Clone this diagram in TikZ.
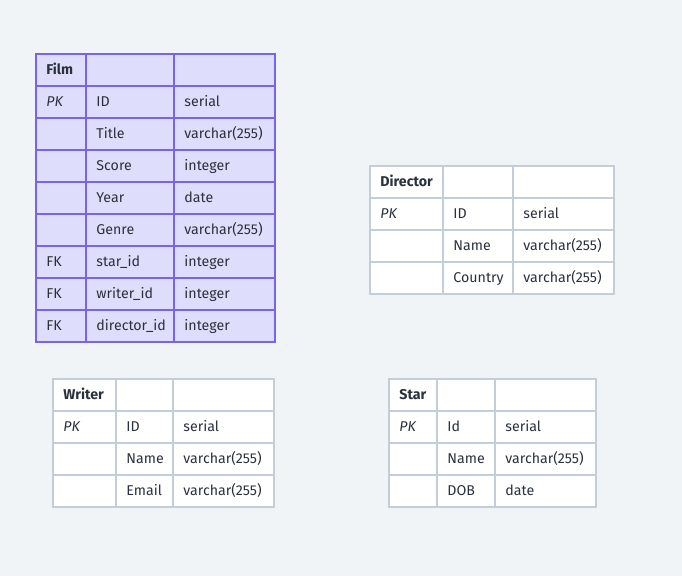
\documentclass[tikz,border=0pt]{standalone}
\usepackage{fontspec}
\setmainfont{Fira Sans}
\definecolor{bg}{HTML}{F1F4F7}
\definecolor{filmfill}{HTML}{DEDEFC}
\definecolor{filmline}{HTML}{7763EC}
\definecolor{plainline}{HTML}{C5CED8}
\definecolor{txt}{HTML}{2B313C}
\tikzset{
  cell/.style={draw, rectangle, anchor=north west, minimum height=32pt,
    inner xsep=10.5pt, inner ysep=0pt, align=left, text height=10pt, text depth=0pt,
    text=txt, font=\fontsize{14.2pt}{16pt}\selectfont, line width=1.9pt},
  filmcell/.style={cell, draw=filmline, fill=filmfill},
  plaincell/.style={cell, draw=plainline, fill=white},
}
\newcommand\mycell[6]{% style, name, xl, xr, ytop, text
  \pgfmathsetmacro\cw{#4-#3}%
  \pgfmathsetmacro\tw{#4-#3-21}%
  \node[#1, minimum width=\cw pt, text width=\tw pt] (#2) at (#3pt,-#5pt) {#6};%
}
\newcommand\tblrow[6]{% name, r, ytop, t1, t2, t3
  \mycell{\cst}{#1-#2-1}{\xa}{\xb}{#3}{#4}%
  \mycell{\cst}{#1-#2-2}{\xb}{\xc}{#3}{#5}%
  \mycell{\cst}{#1-#2-3}{\xc}{\xd}{#3}{#6}%
}
\begin{document}
\begin{tikzpicture}
\fill[bg] (0,0) rectangle (682pt,-576pt);
\useasboundingbox (0,0) rectangle (682pt,-576pt);
% Film
\def\cst{filmcell}\def\xa{35}\def\xb{85}\def\xc{173}\def\xd{274}
\tblrow{film}{0}{53}{\textbf{Film}}{}{}
\tblrow{film}{1}{85}{\textit{PK}}{ID}{serial}
\tblrow{film}{2}{117}{}{Title}{varchar(255)}
\tblrow{film}{3}{149}{}{Score}{integer}
\tblrow{film}{4}{181}{}{Year}{date}
\tblrow{film}{5}{213}{}{Genre}{varchar(255)}
\tblrow{film}{6}{245}{FK}{star\_id}{integer}
\tblrow{film}{7}{277}{FK}{writer\_id}{integer}
\tblrow{film}{8}{309}{FK}{director\_id}{integer}
% Director
\def\cst{plaincell}\def\xa{369}\def\xb{442}\def\xc{512}\def\xd{613}
\tblrow{director}{0}{165}{\textbf{Director}}{}{}
\tblrow{director}{1}{197}{\textit{PK}}{ID}{serial}
\tblrow{director}{2}{229}{}{Name}{varchar(255)}
\tblrow{director}{3}{261}{}{Country}{varchar(255)}
% Writer
\def\xa{52}\def\xb{115}\def\xc{172}\def\xd{273}
\tblrow{writer}{0}{378}{\textbf{Writer}}{}{}
\tblrow{writer}{1}{410}{\textit{PK}}{ID}{serial}
\tblrow{writer}{2}{442}{}{Name}{varchar(255)}
\tblrow{writer}{3}{474}{}{Email}{varchar(255)}
% Star
\def\xa{388}\def\xb{436}\def\xc{494}\def\xd{595}
\tblrow{star}{0}{378}{\textbf{Star}}{}{}
\tblrow{star}{1}{410}{\textit{PK}}{Id}{serial}
\tblrow{star}{2}{442}{}{Name}{varchar(255)}
\tblrow{star}{3}{474}{}{DOB}{date}
\end{tikzpicture}
\end{document}
